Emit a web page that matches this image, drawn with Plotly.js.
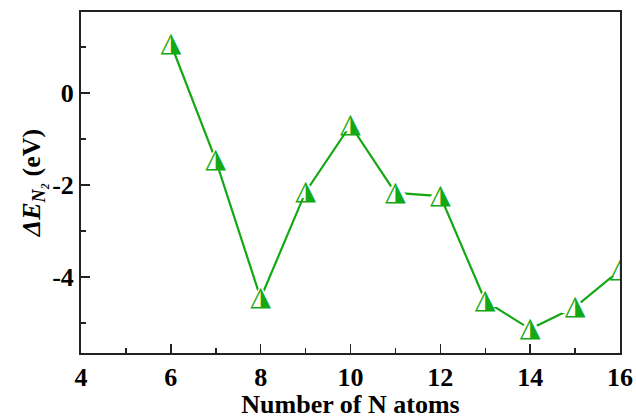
<!DOCTYPE html>
<html>
<head>
<meta charset="utf-8">
<script src="https://cdn.plot.ly/plotly-3.0.1.min.js"></script>
<style>html,body{margin:0;padding:0;background:#fff;}#chart{width:636px;height:419px;}</style>
</head>
<body>
<div id="chart"></div>
<script>
var nAtoms = [6, 7, 8, 9, 10, 11, 12, 13, 14, 15, 16];
var deltaE = [1.07, -1.46, -4.46, -2.15, -0.70, -2.17, -2.24, -4.52, -5.13, -4.65, -3.85];
var xTickVals = [4, 6, 8, 10, 12, 14, 16];
var xTickText = ['4', '6', '8', '10', '12', '14', '16'];
var yTickVals = [-4, -2, 0];
var yTickText = ['-4', '-2', '0'];

var green = '#14a814';
var glyph = nAtoms.map(function(){ return '\u25EE'; });
function bold(a){ return a.map(function(s){ return '<b>' + s + '</b>'; }); }

var trace = {
  x: nAtoms, y: deltaE,
  mode: 'lines+markers+text',
  line: {color: green, width: 2.2},
  marker: {symbol: 'triangle-up', size: 24, color: 'white', line: {width: 0}},
  text: glyph,
  textposition: 'middle center',
  textfont: {family: 'DejaVu Sans', size: 27, color: green},
  cliponaxis: true,
  hoverinfo: 'skip'
};

var tickFont = {family: 'Liberation Serif', size: 26, color: '#000', weight: 'bold'};
var titleFont = {family: 'Liberation Serif', size: 26, color: '#000'};

var layout = {
  width: 636, height: 419,
  margin: {l: 81, r: 16, t: 12, b: 66},
  paper_bgcolor: 'white', plot_bgcolor: 'white',
  showlegend: false,
  font: tickFont,
  xaxis: {
    range: [4, 16], showgrid: false, zeroline: false,
    showline: true, linecolor: '#222', linewidth: 2, mirror: true,
    ticks: 'inside', ticklen: 9, tickwidth: 1.5, tickcolor: '#222',
    tickmode: 'array', tickvals: xTickVals, ticktext: bold(xTickText),
    tickfont: tickFont,
    minor: {dtick: 1, ticks: 'inside', ticklen: 5, tickwidth: 1.5, tickcolor: '#222', showgrid: false},
    title: {text: '<b>Number of N atoms</b>', font: titleFont, standoff: 0}
  },
  yaxis: {
    range: [-5.65, 1.76], showgrid: false, zeroline: false,
    showline: true, linecolor: '#222', linewidth: 2, mirror: true,
    ticks: 'inside', ticklen: 9, tickwidth: 1.5, tickcolor: '#222',
    tickmode: 'array', tickvals: yTickVals, ticktext: bold(yTickText),
    tickfont: tickFont,
    minor: {dtick: 1, ticks: 'inside', ticklen: 5, tickwidth: 1.5, tickcolor: '#222', showgrid: false},
    title: {text: '<b><i>ΔE</i><sub><i>N₂</i></sub> (eV)</b>', font: titleFont, standoff: 4}
  }
};

Plotly.newPlot('chart', [trace], layout, {displayModeBar: false, staticPlot: true});
</script>
</body>
</html>
